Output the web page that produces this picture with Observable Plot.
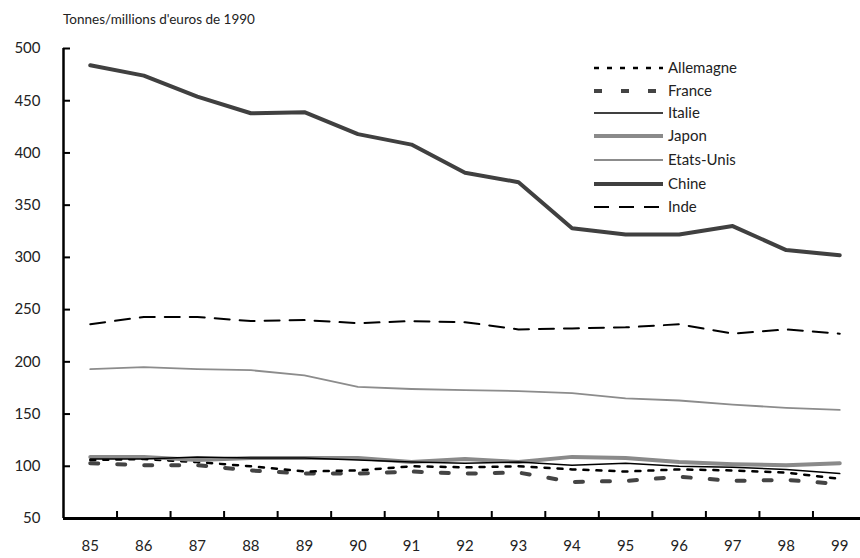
<!DOCTYPE html>
<html><head><meta charset="utf-8">
<script src="https://cdn.jsdelivr.net/npm/d3@7"></script>
<script src="https://cdn.jsdelivr.net/npm/@observablehq/plot@0.6"></script>
<style>
body{margin:0;background:#fff;font-family:Lato,"Open Sans",sans-serif;}
#wrap{position:relative;width:860px;height:558px;}
#title{height:30px;font-size:13.5px;color:#222;padding-left:63px;line-height:38px;box-sizing:border-box;}
#legend{position:absolute;left:0;top:0;}
</style></head>
<body><div id="wrap"><div id="title">Tonnes/millions d'euros de 1990</div></div>
<script>
const years = [85,86,87,88,89,90,91,92,93,94,95,96,97,98,99];
const allemagne = [106,107,104,100,95,96,100,99,100,97,95,97,96,94,88];
const france    = [103,101,101,96,93,93,95,93,94,85,86,90,86,87,83];
const italie    = [107,107,109,108,108,106,104,103,104,101,103,100,99,97,93];
const japon     = [109,109,106,108,108,108,104,107,104,109,108,104,102,101,103];
const etatsUnis = [193,195,193,192,187,176,174,173,172,170,165,163,159,156,154];
const chine     = [484,474,454,438,439,418,408,381,372,328,322,322,330,307,302];
const inde      = [236,243,243,239,240,237,239,238,231,232,233,236,227,231,227];
const yTicks = [50,100,150,200,250,300,350,400,450,500];

const seriesDefs = [
  {name:"Allemagne", values:allemagne, stroke:"#000", width:2.5, dash:"5,8"},
  {name:"France", values:france, stroke:"#444", width:4, dash:"8,19"},
  {name:"Italie", values:italie, stroke:"#000", width:1.5, dash:null},
  {name:"Japon", values:japon, stroke:"#8a8a8a", width:4, dash:null},
  {name:"Etats-Unis", values:etatsUnis, stroke:"#8c8c8c", width:1.8, dash:null},
  {name:"Chine", values:chine, stroke:"#404040", width:4, dash:null},
  {name:"Inde", values:inde, stroke:"#000", width:2, dash:"15,10"}
];

const between = years.slice(0,-1).map(y => y + 0.5);
const font = "Lato, 'Open Sans', sans-serif";

const marks = [];
const drawOrder = ["Etats-Unis","Inde","Chine","France","Allemagne","Japon","Italie"];
for (const n of drawOrder) {
  const s = seriesDefs.find(d => d.name === n);
  const data = years.map((y,i) => ({year:y, value:s.values[i]}));
  marks.push(Plot.line(data, {x:"year", y:"value", stroke:s.stroke, strokeWidth:s.width,
    strokeDasharray:s.dash ?? undefined, strokeLinejoin:"round"}));
}
marks.push(
  Plot.axisY(yTicks, {anchor:"left", tickSize:7, dx:7, text:null, strokeWidth:2, label:null}),
  Plot.axisY(yTicks, {anchor:"left", tickSize:0, tickPadding:23, fontSize:15, fill:"#222", label:null}),
  Plot.axisX(between, {anchor:"bottom", tickSize:7, dy:-7, text:null, strokeWidth:2, label:null}),
  Plot.axisX(years, {anchor:"bottom", tickSize:0, tickPadding:22, fontSize:15, fill:"#222", label:null, tickFormat:d=>String(d)}),
  Plot.ruleX([84.5], {stroke:"#000", strokeWidth:2.5}),
  Plot.ruleY([50], {stroke:"#000", strokeWidth:3})
);

const chart = Plot.plot({
  width:860, height:528,
  marginTop:18, marginBottom:40, marginLeft:63, marginRight:0,
  style:{fontFamily:font, background:"#fff", overflow:"visible"},
  x:{domain:[84.5,99.5], range:[63,866], axis:null, label:null},
  y:{domain:[50,500], axis:null, label:null},
  marks
});
const wrap = document.getElementById("wrap");
wrap.appendChild(chart);

const lg = d3.select(wrap).append("svg").attr("id","legend").attr("width",860).attr("height",240);
const rowY = [68,91,113,136,160,184,207];
seriesDefs.forEach((s,i) => {
  const g = lg.append("g").attr("transform",`translate(0,${rowY[i]})`);
  g.append("line").attr("x1",594).attr("x2",663).attr("y1",0).attr("y2",0)
    .attr("stroke",s.stroke).attr("stroke-width",s.width)
    .attr("stroke-dasharray",s.dash);
  g.append("text").attr("x",668).attr("y",0).attr("dy","0.35em")
    .attr("font-family",font).attr("font-size",15).attr("fill","#222").text(s.name);
});
</script></body></html>
